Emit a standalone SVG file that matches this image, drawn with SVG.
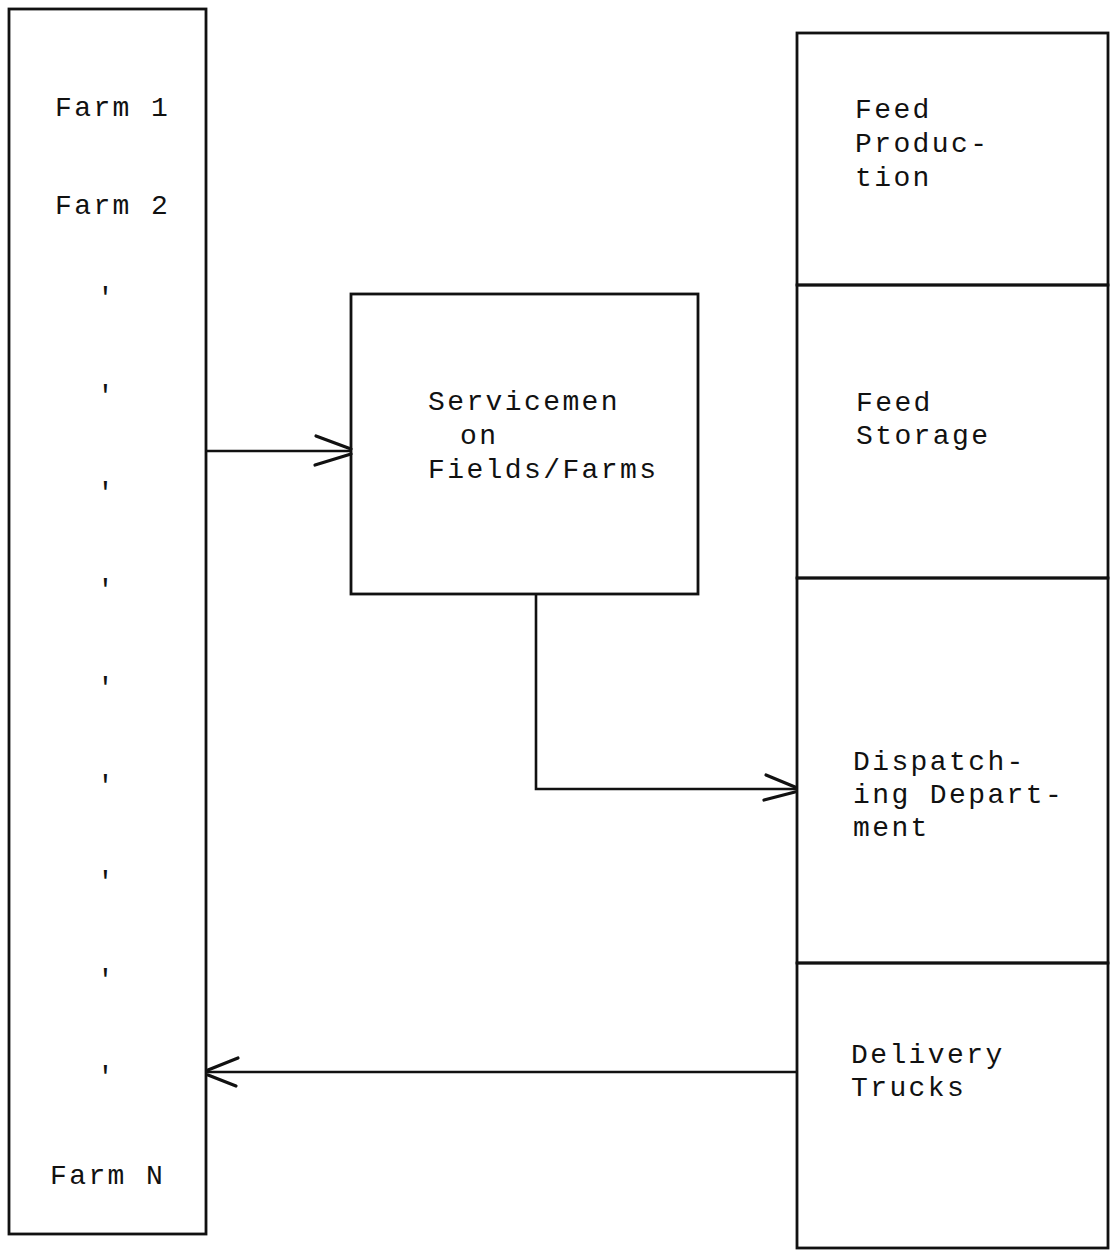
<svg xmlns="http://www.w3.org/2000/svg" width="1114" height="1252" viewBox="0 0 1114 1252">
<style>
.box{fill:none;stroke:#111;stroke-width:2.8}
.ln{fill:none;stroke:#111;stroke-width:2.6}
.ah{fill:none;stroke:#111;stroke-width:3.2;stroke-linecap:round}
text{font-family:"Liberation Mono","DejaVu Sans Mono",monospace;font-size:28px;letter-spacing:2.4px;fill:#111}
</style>
<rect width="1114" height="1252" fill="#fff"/>
<g id="farms">
<rect class="box" x="9" y="9" width="197" height="1225"/>
<text x="55" y="116">Farm 1</text>
<text x="55" y="214">Farm 2</text>
<text x="97" y="306">'</text>
<text x="97" y="404">'</text>
<text x="97" y="501">'</text>
<text x="97" y="598">'</text>
<text x="97" y="696">'</text>
<text x="97" y="794">'</text>
<text x="97" y="890">'</text>
<text x="97" y="988">'</text>
<text x="97" y="1085">'</text>
<text x="50" y="1184">Farm N</text>
</g>
<g id="servicemen">
<rect class="box" x="351" y="294" width="347" height="300"/>
<text x="428" y="410">Servicemen</text>
<text x="460" y="444">on</text>
<text x="428" y="478">Fields/Farms</text>
</g>
<g id="feed-production">
<rect class="box" x="797" y="33" width="311" height="252"/>
<text x="855" y="118">Feed</text>
<text x="855" y="152">Produc-</text>
<text x="855" y="186">tion</text>
</g>
<g id="feed-storage">
<rect class="box" x="797" y="285" width="311" height="293"/>
<text x="856" y="411">Feed</text>
<text x="856" y="444">Storage</text>
</g>
<g id="dispatching">
<rect class="box" x="797" y="578" width="311" height="385"/>
<text x="853" y="770">Dispatch-</text>
<text x="853" y="803">ing Depart-</text>
<text x="853" y="836">ment</text>
</g>
<g id="delivery">
<rect class="box" x="797" y="963" width="311" height="285"/>
<text x="851" y="1063">Delivery</text>
<text x="851" y="1096">Trucks</text>
</g>
<g id="connectors">
<path class="ln" d="M206 451 H351"/>
<path class="ah" d="M316 436 L351 449 M315 465 L351 454"/>
<path class="ln" d="M536 594 V789 H797"/>
<path class="ah" d="M766 775 L795 787 M764 800 L795 792"/>
<path class="ln" d="M797 1072 H207"/>
<path class="ah" d="M238 1058 L208 1070 M236 1086 L208 1075"/>
</g>
</svg>
